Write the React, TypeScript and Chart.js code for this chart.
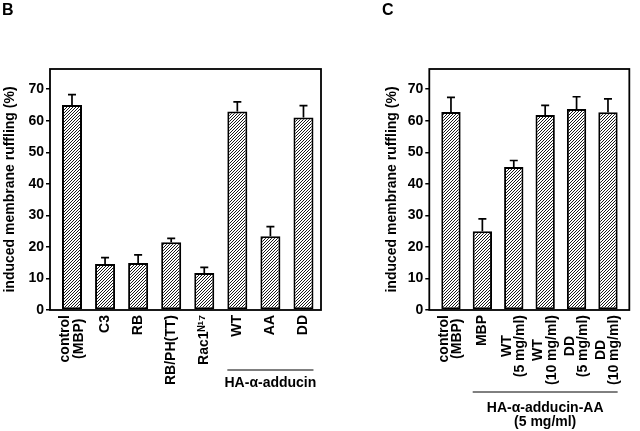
import React, { useEffect, useRef } from "react";
import { Chart, registerables } from "chart.js";
Chart.register(...registerables);

const FONT = "'Liberation Sans', Arial, Helvetica, sans-serif";

// Panel B data
const labelsB: (string | string[])[] = [["control", "(MBP)"], "C3", "RB", "RB/PH(TT)", "Rac1ᴺ¹⁷", "WT", "AA", "DD"];
const valuesB = [65, 14.6, 14.9, 21.5, 11.7, 62.9, 23.4, 61];
const errorsB = [3.3, 2.0, 2.6, 1.2, 1.8, 3.1, 3.0, 3.8];
const groupTextB = ["HA-α-adducin"];

// Panel C data
const labelsC: (string | string[])[] = [["control", "(MBP)"], "MBP", ["WT", "(5 mg/ml)"], ["WT", "(10 mg/ml)"], ["DD", "(5 mg/ml)"], ["DD", "(10 mg/ml)"]];
const valuesC = [62.8, 25, 45.3, 61.8, 63.7, 62.7];
const errorsC = [4.6, 3.9, 2.1, 3.1, 3.9, 4.2];
const groupTextC = ["HA-α-adducin-AA", "(5 mg/ml)"];

const yTicks = [0, 10, 20, 30, 40, 50, 60, 70];
const yTitle = "induced membrane ruffling (%)";

type Spec = {
  letter: string;
  labels: (string | string[])[];
  values: number[];
  errors: number[];
  groupText: string[];
  groupFrom: number;
  groupTo: number;
  width: number;
  left: number;
  padLeft: number;
  padRight: number;
  yWidth: number;
  xMin: number;
  xMax: number;
  barPct: number;
  letterX: number;
  groupLineY: number;
  groupTextY: number[];
};

function hatch(): CanvasPattern {
  const c = document.createElement("canvas");
  c.width = 3;
  c.height = 3;
  const g = c.getContext("2d")!;
  g.fillStyle = "#fff";
  g.fillRect(0, 0, 3, 3);
  g.fillStyle = "#1a1a1a";
  for (let i = 0; i < 3; i++) g.fillRect(i, 2 - i, 1, 1);
  return g.createPattern(c, "repeat")!;
}

function Panel({ spec }: { spec: Spec }) {
  const ref = useRef<HTMLCanvasElement>(null);
  useEffect(() => {
    const canvas = ref.current!;
    const deco = {
      id: "deco",
      beforeDraw(chart: any) {
        const s = chart.scales.x;
        if (!s.__patched) {
          const orig = s._computeLabelItems.bind(s);
          s._computeLabelItems = (ca: any) => {
            const items = orig(ca);
            const ctx = chart.ctx;
            items.forEach((it: any) => {
              const lines: string[] = Array.isArray(it.label) ? it.label : [it.label];
              ctx.save();
              ctx.font = it.font.string;
              const w = Math.max(...lines.map((l) => ctx.measureText(l).width));
              ctx.restore();
              const lh = it.font.lineHeight;
              const tr = it.options.translation;
              it.options.textAlign = "center";
              it.options.translation = [tr[0] - ((lines.length - 1) * lh) / 2, tr[1] + w / 2];
            });
            return items;
          };
          s.__patched = true;
        }
        s._labelItems = null;
      },
      afterDatasetsDraw(chart: any) {
        const ctx = chart.ctx;
        const y = chart.scales.y;
        const meta = chart.getDatasetMeta(0);
        ctx.save();
        ctx.strokeStyle = "#000";
        ctx.lineWidth = 1.7;
        meta.data.forEach((el: any, i: number) => {
          const top = y.getPixelForValue(spec.values[i] + spec.errors[i]);
          ctx.beginPath();
          ctx.moveTo(el.x, el.y);
          ctx.lineTo(el.x, top);
          ctx.moveTo(el.x - 4, top);
          ctx.lineTo(el.x + 4, top);
          ctx.stroke();
        });
        ctx.restore();
      },
      afterDraw(chart: any) {
        const ctx = chart.ctx;
        const a = chart.chartArea;
        const meta = chart.getDatasetMeta(0);
        ctx.save();
        ctx.strokeStyle = "#000";
        ctx.lineWidth = 1.8;
        ctx.strokeRect(a.left, a.top, a.right - a.left, a.bottom - a.top);
        // group line
        const b0: any = meta.data[spec.groupFrom];
        const b1: any = meta.data[spec.groupTo];
        const x0 = b0.x - b0.width / 2;
        const x1 = b1.x + b1.width / 2;
        ctx.lineWidth = 1;
        ctx.beginPath();
        ctx.moveTo(x0, spec.groupLineY);
        ctx.lineTo(x1, spec.groupLineY);
        ctx.stroke();
        ctx.fillStyle = "#000";
        ctx.font = `bold 14px ${FONT}`;
        ctx.textAlign = "center";
        ctx.textBaseline = "middle";
        spec.groupText.forEach((t, i) => ctx.fillText(t, (x0 + x1) / 2, spec.groupTextY[i]));
        // letter
        ctx.font = `bold 16px ${FONT}`;
        ctx.textAlign = "left";
        ctx.textBaseline = "alphabetic";
        ctx.fillText(spec.letter, spec.letterX, 15);
        ctx.restore();
      },
    };
    const chart = new Chart(canvas, {
      type: "bar",
      data: {
        datasets: [
          {
            data: spec.values.map((v, i) => ({ x: i, y: v })),
            backgroundColor: hatch(),
            borderColor: "#000",
            borderWidth: 2,
            borderSkipped: false,
            barPercentage: spec.barPct,
            categoryPercentage: 1,
          } as any,
        ],
      },
      options: {
        responsive: false,
        animation: false,
        events: [],
        layout: { padding: { left: spec.padLeft, right: spec.padRight, top: 69, bottom: 0 } },
        plugins: { legend: { display: false }, tooltip: { enabled: false } },
        scales: {
          x: {
            type: "linear",
            min: spec.xMin,
            max: spec.xMax,
            offset: false,
            grid: { display: false, drawTicks: false },
            border: { display: false },
            afterBuildTicks: (s: any) => {
              s.ticks = spec.labels.map((_, i) => ({ value: i }));
            },
            afterFit: (s: any) => {
              s.height = 121;
            },
            ticks: {
              autoSkip: false,
              minRotation: 90,
              maxRotation: 90,
              padding: 5,
              color: "#000",
              font: { family: FONT, size: 14, weight: "bold", lineHeight: 0.95 },
              callback: (v: any) => spec.labels[Math.round(v)] as any,
            },
          },
          y: {
            min: 0,
            max: 76.4,
            grid: { display: true, drawOnChartArea: false, drawTicks: true, tickLength: 4, color: "#000", lineWidth: 1.5 },
            border: { display: false },
            afterBuildTicks: (s: any) => {
              s.ticks = yTicks.map((v) => ({ value: v }));
            },
            afterFit: (s: any) => {
              s.width = spec.yWidth;
            },
            ticks: {
              padding: 2,
              color: "#000",
              font: { family: FONT, size: 14, weight: "bold" },
            },
            title: {
              display: true,
              text: yTitle,
              color: "#000",
              padding: { top: 1.5, bottom: 0 },
              font: { family: FONT, size: 14, weight: "bold" },
            },
          },
        },
      },
      plugins: [deco],
    } as any);
    return () => chart.destroy();
  }, [spec]);
  return (
    <canvas
      ref={ref}
      width={spec.width}
      height={431}
      style={{ position: "absolute", left: spec.left, top: 0, width: spec.width, height: 431 }}
    />
  );
}

const specB: Spec = {
  letter: "B",
  labels: labelsB,
  values: valuesB,
  errors: errorsB,
  groupText: groupTextB,
  groupFrom: 5,
  groupTo: 7,
  width: 330,
  left: 0,
  padLeft: 0,
  padRight: 9,
  yWidth: 50,
  xMin: -0.665,
  xMax: 7.53,
  barPct: 0.605,
  letterX: 2,
  groupLineY: 370,
  groupTextY: [383],
};

const specC: Spec = {
  letter: "C",
  labels: labelsC,
  values: valuesC,
  errors: errorsC,
  groupText: groupTextC,
  groupFrom: 1,
  groupTo: 5,
  width: 310,
  left: 330,
  padLeft: 52,
  padRight: 4,
  yWidth: 47.3,
  xMin: -0.69,
  xMax: 5.68,
  barPct: 0.616,
  letterX: 52,
  groupLineY: 392,
  groupTextY: [408, 422],
};

export default function App() {
  return (
    <div style={{ position: "absolute", left: 0, top: 0, width: 640, height: 431, background: "#fff" }}>
      <Panel spec={specB} />
      <Panel spec={specC} />
    </div>
  );
}
